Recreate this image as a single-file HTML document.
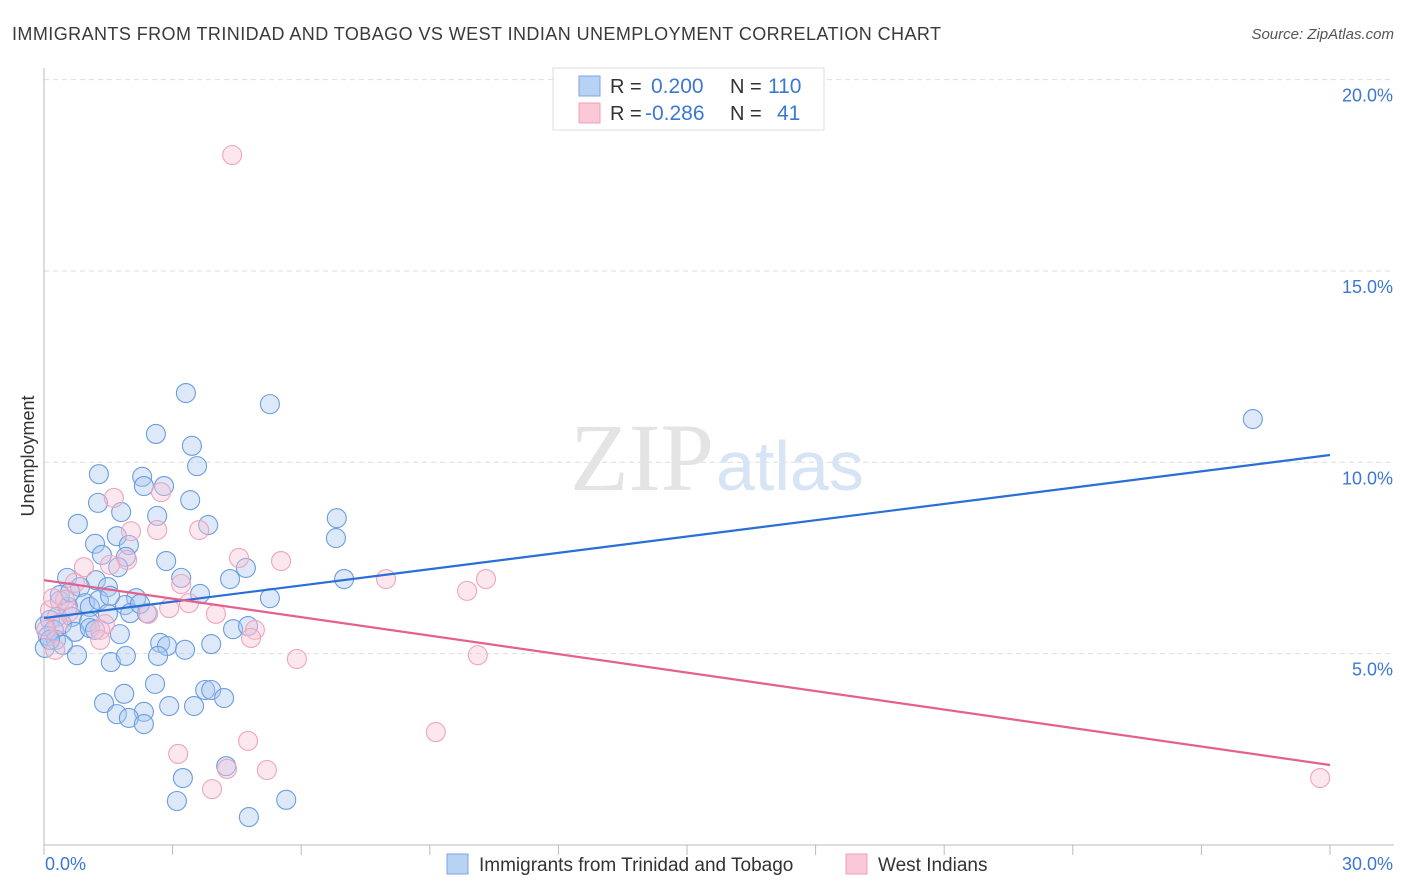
<!DOCTYPE html>
<html><head><meta charset="utf-8"><style>
body{margin:0;background:#fff;font-family:"Liberation Sans",sans-serif}
#wrap{position:relative;width:1406px;height:892px;overflow:hidden}
</style></head><body>
<div id="wrap">
<svg id="chart" width="1406" height="892">
<text x="12" y="40" font-size="18" fill="#3a3a3a" textLength="929" lengthAdjust="spacing">IMMIGRANTS FROM TRINIDAD AND TOBAGO VS WEST INDIAN UNEMPLOYMENT CORRELATION CHART</text>
<text x="1394" y="39" font-size="15" fill="#555" font-style="italic" text-anchor="end">Source: ZipAtlas.com</text>
<text x="34" y="456" font-size="18" fill="#333" text-anchor="middle" transform="rotate(-90 34 456)">Unemployment</text>
<g id="grid"></g>
<text x="714" y="490" font-size="96" font-family="Liberation Serif,serif" fill="#e4e4e4" text-anchor="end">ZIP</text>
<text x="716" y="490" font-size="70" fill="#d6e4f5">atlas</text>
<g id="marks"></g>
<g id="trend"></g>
<g>
<rect x="553" y="68" width="271" height="62" fill="#fff" stroke="#ddd"/>
<rect x="579" y="76" width="21" height="20" fill="#b8d2f4" stroke="#7aa6e4"/>
<rect x="579" y="103" width="21" height="20" fill="#fbc8d8" stroke="#eea0b8"/>
<text x="610" y="93" font-size="20" fill="#333">R =</text>
<text x="651" y="93" font-size="21" fill="#3a78d4">0.200</text>
<text x="730" y="93" font-size="20" fill="#333">N =</text>
<text x="768" y="93" font-size="21" fill="#3a78d4">110</text>
<text x="610" y="120" font-size="20" fill="#333">R =</text>
<text x="645" y="120" font-size="21" fill="#3a78d4">-0.286</text>
<text x="730" y="120" font-size="20" fill="#333">N =</text>
<text x="777" y="120" font-size="21" fill="#3a78d4">41</text>
</g>
<g>
<rect x="447" y="854" width="21" height="20" fill="#b8d2f4" stroke="#7aa6e4"/>
<text x="479" y="871" font-size="19" fill="#333">Immigrants from Trinidad and Tobago</text>
<rect x="846" y="854" width="21" height="20" fill="#fbc8d8" stroke="#eea0b8"/>
<text x="878" y="871" font-size="19" fill="#333">West Indians</text>
</g>
</svg>
</div>
<script>
const yTicks=[5,10,15,20];
const yTickLabels=["5.0%","10.0%","15.0%","20.0%"];
const xTickLabels=["0.0%","30.0%"];
const blueX=[3.31,5.27,2.61,3.45,3.57,1.28,2.29,2.80,2.33,1.26,3.41,1.80,2.64,0.79,3.83,6.83,6.81,1.70,1.19,1.98,1.35,1.91,2.85,1.73,4.71,0.54,1.21,3.20,4.34,7.00,0.84,1.49,3.64,5.27,2.15,0.37,0.96,0.56,1.07,1.89,1.28,2.40,2.01,1.49,0.30,0.65,0.14,0.42,1.05,0.02,0.23,0.72,1.07,1.77,1.19,0.09,0.28,0.44,2.71,2.87,3.29,2.66,3.90,4.41,4.76,0.77,1.56,1.91,2.59,1.87,1.40,1.70,2.33,1.98,2.92,3.50,3.76,3.90,4.20,2.33,3.24,4.25,3.10,5.65,4.78,0.02,0.14,0.37,0.61,1.54,2.24,28.20];
const blueY=[11.81,11.52,10.74,10.43,9.90,9.69,9.62,9.38,9.38,8.94,9.01,8.70,8.60,8.39,8.36,8.54,8.02,8.07,7.87,7.84,7.58,7.53,7.42,7.26,7.24,6.98,6.92,6.98,6.95,6.95,6.74,6.74,6.56,6.45,6.45,6.38,6.32,6.22,6.22,6.27,6.40,6.06,6.06,6.04,5.96,5.96,5.88,5.77,5.83,5.72,5.62,5.57,5.67,5.51,5.62,5.46,5.36,5.23,5.28,5.20,5.10,4.94,5.25,5.64,5.72,4.96,4.78,4.94,4.21,3.95,3.71,3.42,3.48,3.32,3.63,3.63,4.05,4.05,3.84,3.16,1.75,2.06,1.15,1.18,0.73,5.15,5.36,6.53,6.61,6.51,6.30,11.13];
const pinkX=[4.39,1.63,2.73,2.03,2.64,3.62,4.55,5.53,1.94,0.93,3.20,7.98,9.87,10.31,0.14,0.58,1.42,2.43,2.92,3.38,4.01,4.92,4.83,5.90,10.12,9.14,3.13,4.76,4.27,5.20,3.92,29.77,0.33,0.05,1.31,0.49,0.72,1.54,1.31,0.26,0.21];
const pinkY=[18.03,9.07,9.22,8.20,8.23,8.23,7.50,7.42,7.45,7.26,6.82,6.95,6.64,6.95,6.14,6.09,5.77,6.04,6.19,6.32,6.04,5.62,5.41,4.86,4.96,2.95,2.38,2.72,1.99,1.96,1.46,1.75,5.77,5.62,5.62,6.40,6.85,7.32,5.36,5.10,6.45];
const blueTrend=[5.93,10.19];
const pinkTrend=[6.92,2.09];
const NS="http://www.w3.org/2000/svg";
const X0=44,X1=1330,Y0=845,YPX=38.27;
function sx(v){return X0+(X1-X0)*v/30;}
function sy(v){return Y0-v*YPX;}
function mk(t,a,p){const e=document.createElementNS(NS,t);for(const k in a)e.setAttribute(k,a[k]);p.appendChild(e);return e;}
const grid=document.getElementById('grid');
yTicks.forEach((t,i)=>{
  const l=mk('line',{x1:X0,x2:1394,y1:sy(t),y2:sy(t),stroke:'#ddd','stroke-dasharray':'5,4'},grid);
  
  
  const tx=mk('text',{x:1393,y:sy(t)+22,'font-size':18,fill:'#3a78d4','text-anchor':'end'},grid);
  tx.textContent=yTickLabels[i];
  
  
});
const ax=mk('line',{x1:X0,x2:X0,y1:68,y2:Y0,stroke:'#bbb'},grid);


const bx=mk('line',{x1:X0,x2:1394,y1:Y0,y2:Y0,stroke:'#bbb'},grid);


for(let i=0;i<=10;i++){
  const t=mk('line',{x1:sx(i*3),x2:sx(i*3),y1:Y0,y2:Y0+10,stroke:'#bbb'},grid);
  
  
}
[[0,'start',45],[30,'end',1393]].forEach((d,i)=>{
  const t=mk('text',{x:d[2],y:870,'font-size':18,fill:'#3a78d4','text-anchor':d[1]},grid);
  t.textContent=xTickLabels[i];
  
  
});
const marks=document.getElementById('marks');
blueX.forEach((x,i)=>{
  const c=mk('circle',{cx:sx(x),cy:sy(blueY[i]),r:9.5,fill:'rgba(170,200,240,0.4)',stroke:'#6b9de0','stroke-width':1.1},marks);
  
  
});
pinkX.forEach((x,i)=>{
  const c=mk('circle',{cx:sx(x),cy:sy(pinkY[i]),r:9.5,fill:'rgba(248,195,214,0.4)',stroke:'#eea5bd','stroke-width':1.1},marks);
  
  
});
const tr=document.getElementById('trend');
const l1=mk('line',{x1:sx(0),y1:sy(blueTrend[0]),x2:sx(30),y2:sy(blueTrend[1]),stroke:'#2a6fd6','stroke-width':2.2},tr);


const l2=mk('line',{x1:sx(0),y1:sy(pinkTrend[0]),x2:sx(30),y2:sy(pinkTrend[1]),stroke:'#e4618e','stroke-width':2.2},tr);


</script>
</body></html>
